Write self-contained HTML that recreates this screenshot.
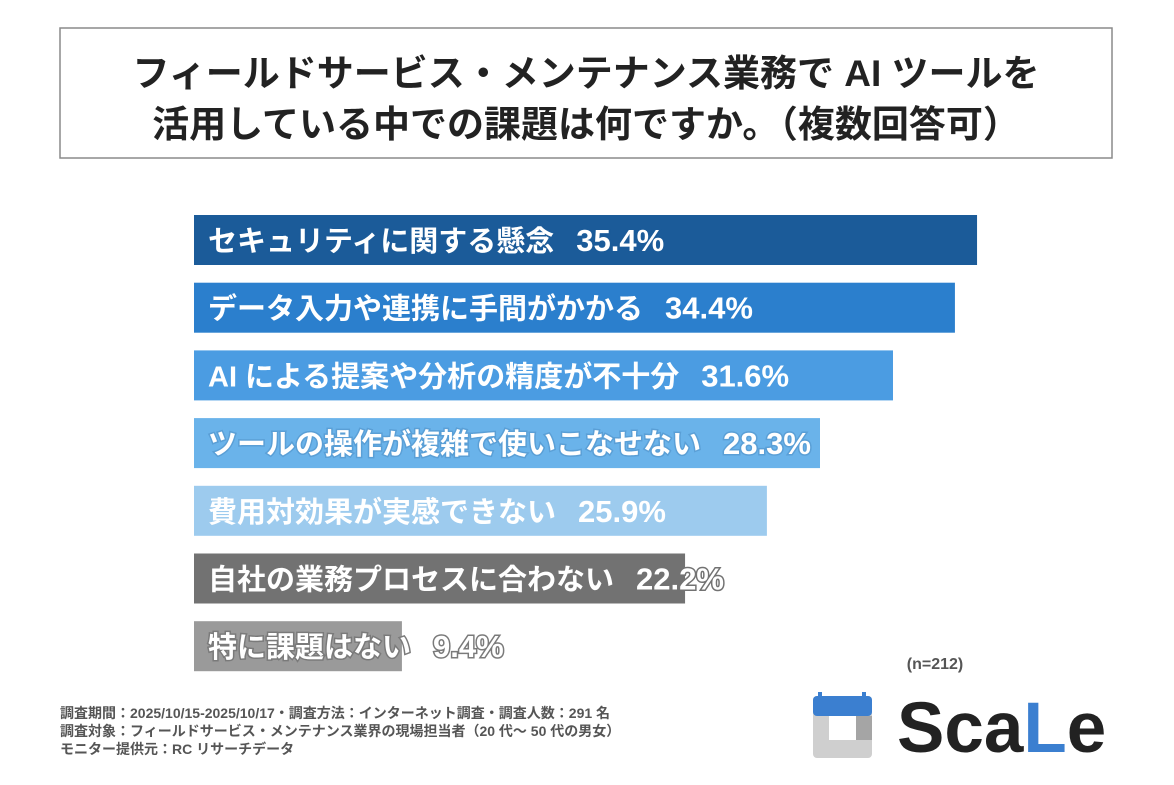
<!DOCTYPE html>
<html><head><meta charset="utf-8"><style>
body{margin:0;background:#fff;font-family:"Liberation Sans","Noto Sans CJK JP",sans-serif;}
svg text{font-family:"Liberation Sans","Noto Sans CJK JP",sans-serif;}
</style></head><body>
<svg id="chart" width="1174" height="780" viewBox="0 0 1174 780" xmlns="http://www.w3.org/2000/svg">
<rect width="1174" height="780" fill="#fff"/>
<g>
<rect x="60" y="28" width="1052" height="130" fill="#fff" stroke="#8a8a8a" stroke-width="1.5"/>
<text x="586" y="86" text-anchor="middle" font-size="37" font-weight="bold" fill="#222">フィールドサービス・メンテナンス業務で AI ツールを</text>
<text x="586" y="137" text-anchor="middle" font-size="37" font-weight="bold" fill="#222">活用している中での課題は何ですか。（複数回答可）</text>
</g>
<g id="bars"></g>
<text x="935" y="669" text-anchor="middle" font-size="16" font-weight="bold" fill="#555">(n=212)</text>
<g font-size="14" font-weight="bold" fill="#555">
<text x="60" y="718">調査期間：2025/10/15-2025/10/17・調査方法：インターネット調査・調査人数：291 名</text>
<text x="60" y="736">調査対象：フィールドサービス・メンテナンス業界の現場担当者（20 代～ 50 代の男女）</text>
<text x="60" y="754">モニター提供元：RC リサーチデータ</text>
</g>
<g>
<rect x="813" y="696" width="59" height="62" rx="4" fill="#cfcfcf"/>
<rect x="813" y="696" width="59" height="20" rx="4" fill="#3b7fd0"/>
<rect x="818" y="692" width="4" height="8" fill="#3b7fd0"/>
<rect x="862" y="692" width="4" height="8" fill="#3b7fd0"/>
<rect x="829" y="716" width="27" height="24" fill="#fff"/>
<rect x="856" y="716" width="16" height="24" fill="#a5a5a5"/>
<text x="897" y="752" font-size="71" font-weight="bold" fill="#222">Sca<tspan fill="#3b7fd0">L</tspan>e</text>
</g>
</svg>
<script>
const categories=["セキュリティに関する懸念","データ入力や連携に手間がかかる","AI による提案や分析の精度が不十分","ツールの操作が複雑で使いこなせない","費用対効果が実感できない","自社の業務プロセスに合わない","特に課題はない"];
const values=[35.4,34.4,31.6,28.3,25.9,22.2,9.4];
const colors=["#1b5b99","#2b7fcd","#4b9ce2","#6ab3ea","#9dcbee","#727272","#9a9a9a"];
const strokes=["#1b5b99","#2b7fcd","#4b9ce2","#5a9fd6","#9dcbee","#727272","#7a7a7a"];
const x0=194, pxPer=22.12, y0=215, pitch=67.7, bh=50;
const g=document.getElementById('bars');
const ns="http://www.w3.org/2000/svg";
values.forEach((v,i)=>{
  const y=y0+i*pitch;
  const r=document.createElementNS(ns,'rect');
  
  
  r.setAttribute('x',x0);r.setAttribute('y',y);r.setAttribute('width',v*pxPer);r.setAttribute('height',bh);r.setAttribute('fill',colors[i]);
  g.appendChild(r);
  const t=document.createElementNS(ns,'text');
  
  
  t.setAttribute('x',208);t.setAttribute('y',y+bh/2+11);t.setAttribute('font-size','29');t.setAttribute('font-weight','bold');t.setAttribute('fill','#fff');
  t.setAttribute('stroke',strokes[i]);t.setAttribute('stroke-width','3');t.setAttribute('paint-order','stroke');
  const a=document.createElementNS(ns,'tspan');
  a.textContent=categories[i];
  t.appendChild(a);
  const b=document.createElementNS(ns,'tspan');
  
  
  b.setAttribute('dx','22');b.setAttribute('font-size','31');
  b.textContent=v.toFixed(1)+'%';
  t.appendChild(b);
  g.appendChild(t);
});
</script>
</body></html>
